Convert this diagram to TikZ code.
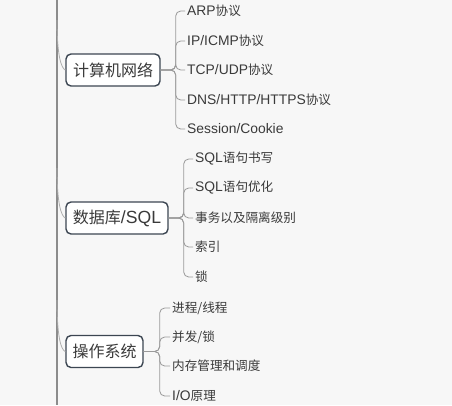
\documentclass[tikz,border=0pt]{standalone}
\usepackage{fontspec}
\setmainfont{Noto Sans CJK SC}
\newfontfamily\lat[Scale=1.1]{Liberation Sans}
\definecolor{bgc}{HTML}{F7F7F7}
\definecolor{boxc}{HTML}{3C4652}
\definecolor{trunkc}{HTML}{8C8C8C}
\definecolor{linec}{HTML}{9A9A9A}
\definecolor{txtc}{HTML}{3A3A3A}
\tikzset{
  topic/.style={draw=boxc, line width=1.4pt, fill=white, rounded corners=5pt,
    minimum height=32pt, inner xsep=6pt, inner ysep=0pt, text=txtc,
    font=\fontsize{16pt}{18pt}\selectfont},
  leaf/.style={anchor=west, inner sep=0pt, text=txtc,
    font=\fontsize{12.6pt}{14pt}\selectfont},
  conn/.style={draw=linec, line width=0.8pt, rounded corners=5pt},
  branch/.style={draw=linec!80, line width=0.8pt},
  trunk/.style={draw=trunkc, line width=1.8pt}
}
\begin{document}
\begin{tikzpicture}[x=1pt,y=-1pt]
\fill[bgc] (0,0) rectangle (452,405);
\useasboundingbox (0,0) rectangle (452,405);
% trunk
\coordinate (ttop) at (57,0);
\coordinate (tbot) at (57,405);
\draw[trunk] (ttop) -- (tbot);
% topics
\node[topic, minimum width=94pt] (b1) at (113,70) {计算机网络};
\node[topic, minimum width=102pt] (b2) at (117,218) {数据库{\lat/SQL}};
\node[topic, minimum width=77pt] (b3) at (104.5,351.5) {操作系统};
% branch curves
\coordinate (s1) at (57,20);
\coordinate (s2) at (57,168);
\coordinate (s3) at (57,300);
\draw[branch] (s1) .. controls (57,55) and (61,68) .. (b1.west);
\draw[branch] (s2) .. controls (57,203) and (61,216) .. (b2.west);
\draw[branch] (s3) .. controls (57,337) and (61,350) .. (b3.west);
% leaves of b1
\node[leaf] (c11) at (187,11) {{\lat ARP}协议};
\node[leaf] (c12) at (187,41) {{\lat IP/ICMP}协议};
\node[leaf] (c13) at (187,70) {{\lat TCP/UDP}协议};
\node[leaf] (c14) at (187,100) {{\lat DNS/HTTP/HTTPS}协议};
\node[leaf] (c15) at (187,129) {{\lat Session/Cookie}};
\foreach \c in {c11,c12,c13,c14,c15}
  \draw[conn] (b1.east) -- ++(15,0) |- ([xshift=-2pt]\c.west);
% leaves of b2
\node[leaf] (c21) at (195,159) {{\lat SQL}语句书写};
\node[leaf] (c22) at (195,188) {{\lat SQL}语句优化};
\node[leaf] (c23) at (195,218) {事务以及隔离级别};
\node[leaf] (c24) at (195,247) {索引};
\node[leaf] (c25) at (195,277) {锁};
\foreach \c in {c21,c22,c23,c24,c25}
  \draw[conn] (b2.east) -- ++(15,0) |- ([xshift=-2pt]\c.west);
% leaves of b3
\node[leaf] (c31) at (172,308) {进程/线程};
\node[leaf] (c32) at (172,337) {并发/锁};
\node[leaf] (c33) at (172,366) {内存管理和调度};
\node[leaf] (c34) at (172,396) {{\lat I/O}原理};
\foreach \c in {c31,c32,c33,c34}
  \draw[conn] (b3.east) -- ++(16,0) |- ([xshift=-2pt]\c.west);
\end{tikzpicture}
\end{document}
